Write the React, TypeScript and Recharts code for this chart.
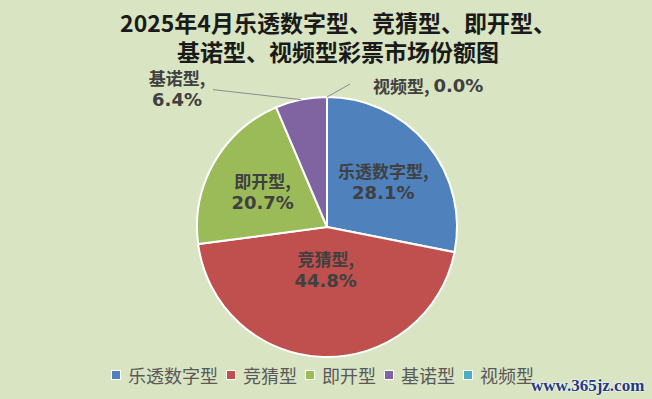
import React from 'react';
import { PieChart, Pie, Cell } from 'recharts';

const categories = ['乐透数字型', '竞猜型', '即开型', '基诺型', '视频型'];
const shares = [28.1, 44.8, 20.7, 6.4, 0.0];
const titleLines = ['2025年4月乐透数字型、竞猜型、即开型、', '基诺型、视频型彩票市场份额图'];
const watermark = 'www.365jz.com';

const COLORS = ['#4f81bd', '#c0504d', '#9bbb59', '#8064a2', '#4bacc6'];
const BG = '#d8e4c2';
const CJK = '"Noto Sans CJK SC", "Noto Sans", sans-serif';
const NUM = '"DejaVu Sans", "Noto Sans CJK SC", sans-serif';

const data = categories.map((name, i) => ({ name, value: shares[i] }));

const RAD = Math.PI / 180;
// inside label radius factors (per slice)
const INSIDE_R = [0.56, 0.32, 0.57];
// outside label leader offsets
const OUTSIDE = [null, null, null, { dx: -88, dy: -10 }, { dx: 23, dy: -13 }];

const renderLabel = (props: any) => {
  const { cx, cy, midAngle, outerRadius, index, name, value } = props;
  const pct = `${Number(value).toFixed(1)}%`;
  if (index < 3) {
    const r = outerRadius * INSIDE_R[index];
    const x = cx + r * Math.cos(-midAngle * RAD);
    const y = cy + r * Math.sin(-midAngle * RAD);
    return (
      <g key={`lbl-${index}`}>
        <text x={x} y={y - 10} textAnchor="middle" dominantBaseline="central" fill="#404040" fontFamily={CJK} fontWeight="bold" fontSize={17}>
          {name},
        </text>
        <text x={x} y={y + 12} textAnchor="middle" dominantBaseline="central" fill="#404040" fontFamily={NUM} fontWeight="bold" fontSize={18}>
          {pct}
        </text>
      </g>
    );
  }
  const ex = cx + outerRadius * Math.cos(-midAngle * RAD);
  const ey = cy + outerRadius * Math.sin(-midAngle * RAD);
  const o = OUTSIDE[index]!;
  const lx = ex + o.dx;
  const ly = ey + o.dy;
  if (index === 3) {
    return (
      <g key={`lbl-${index}`}>
        <line x1={ex} y1={ey} x2={lx} y2={ly} stroke="#8c8c8c" strokeWidth={1} />
        <text x={lx - 36} y={ly - 12} textAnchor="middle" dominantBaseline="central" fill="#404040" fontFamily={CJK} fontWeight="bold" fontSize={17}>
          {name},
        </text>
        <text x={lx - 36} y={ly + 10} textAnchor="middle" dominantBaseline="central" fill="#404040" fontFamily={NUM} fontWeight="bold" fontSize={18}>
          {pct}
        </text>
      </g>
    );
  }
  return (
    <g key={`lbl-${index}`}>
      <line x1={ex} y1={ey} x2={lx} y2={ly} stroke="#8c8c8c" strokeWidth={1} />
      <text x={lx + 23} y={ly + 1} textAnchor="start" dominantBaseline="central" fill="#404040">
        <tspan fontFamily={CJK} fontWeight="bold" fontSize={17}>{name}, </tspan>
        <tspan fontFamily={NUM} fontWeight="bold" fontSize={18}>{pct}</tspan>
      </text>
    </g>
  );
};

export default function App() {
  return (
    <div style={{ position: 'absolute', left: 0, top: 0, width: 652, height: 399, background: BG, overflow: 'hidden' }}>
      <div
        style={{
          position: 'absolute',
          left: 0,
          top: 7,
          width: 676,
          textAlign: 'center',
          fontFamily: CJK,
          fontWeight: 'bold',
          fontSize: 23,
          lineHeight: '30px',
          color: '#1a1a1a',
        }}
      >
        <div style={{ height: 29 }}>{titleLines[0]}</div>
        <div>{titleLines[1]}</div>
      </div>
      <div style={{ position: 'absolute', left: 0, top: 0 }}>
        <PieChart width={652} height={399} margin={{ top: 0, right: 0, bottom: 0, left: 0 }}>
          <Pie
            data={data}
            dataKey="value"
            nameKey="name"
            cx={327}
            cy={227}
            outerRadius={130}
            startAngle={90}
            endAngle={-270}
            stroke="#ffffff"
            strokeWidth={2}
            label={renderLabel}
            labelLine={false}
            isAnimationActive={false}
          >
            {data.map((d, i) => (
              <Cell key={d.name} fill={COLORS[i]} />
            ))}
          </Pie>
        </PieChart>
      </div>
      <div style={{ position: 'absolute', left: 111, top: 364, display: 'flex', alignItems: 'center', height: 22 }}>
        {categories.map((c, i) => (
          <div key={c} style={{ display: 'flex', alignItems: 'center', marginRight: 8 }}>
            <div style={{ width: 8, height: 8, background: COLORS[i], border: '1px solid #ffffff', marginRight: 7 }} />
            <span style={{ fontFamily: CJK, fontSize: 18, color: '#595959', lineHeight: '22px' }}>{c}</span>
          </div>
        ))}
      </div>
      <div
        style={{
          position: 'absolute',
          left: 531,
          top: 376,
          fontFamily: '"Liberation Serif", serif',
          fontWeight: 'bold',
          fontSize: 17,
          color: '#1f3a84',
          textShadow: '0 0 2px #fff, 0 0 2px #fff',
        }}
      >
        {watermark}
      </div>
    </div>
  );
}
